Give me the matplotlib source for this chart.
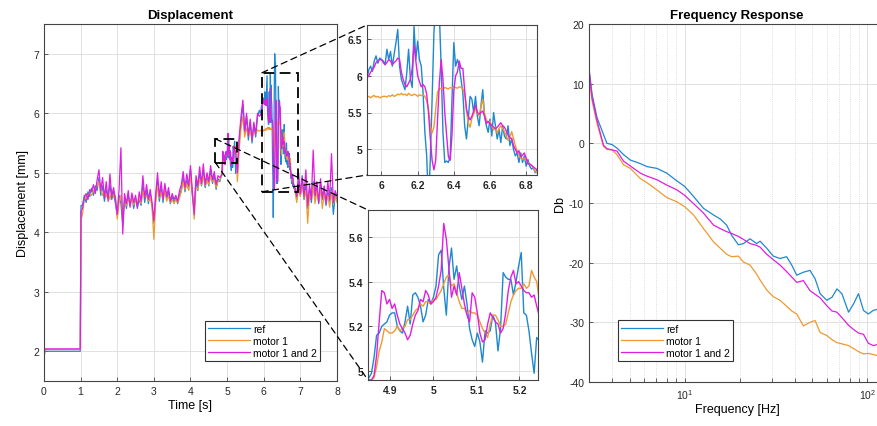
import numpy as np
import matplotlib
matplotlib.use("Agg")
import matplotlib.pyplot as plt
from matplotlib.patches import Rectangle, ConnectionPatch
from matplotlib.ticker import NullFormatter

plt.rcParams['font.family'] = ['Liberation Sans', 'DejaVu Sans']
plt.rcParams['axes.unicode_minus'] = False

names = ["ref", "motor 1", "motor 1 and 2"]
colors = ["#1E88D0", "#EE9A30", "#E01EE0"]

# ---- displacement data, sampled denser inside the two zoom windows ----
t_pre = [0.0, 0.02, 0.5, 0.99, 1.01]
ref_pre = [1.88, 2.00, 2.00, 2.00, 4.45]
m1_pre = [1.80, 2.03, 2.03, 2.03, 4.20]
m12_pre = [1.85, 2.04, 2.04, 2.04, 4.35]

t_a = np.round(np.arange(1.05, 4.8001, 0.05), 3)
ref_a = [4.45, 4.62, 4.50, 4.68, 4.60, 4.74, 4.62, 4.78, 4.70, 4.92,
         4.62, 4.78, 4.52, 4.72, 4.58, 4.80, 4.55, 4.68, 4.48, 4.28,
         4.62, 4.48, 4.12, 4.58, 4.40, 4.62, 4.45, 4.60, 4.40, 4.58,
         4.42, 4.55, 4.45, 4.80, 4.50, 4.70, 4.48, 4.65, 4.45, 4.15,
         4.58, 4.85, 4.52, 4.75, 4.50, 4.78, 4.55, 4.68, 4.48, 4.60,
         4.50, 4.58, 4.48, 4.62, 4.72, 4.92, 4.68, 4.88, 4.72, 5.05,
         4.62, 4.38, 4.88, 4.70, 4.98, 4.78, 5.02, 4.75, 4.92, 4.78,
         5.05, 4.82, 4.95, 4.72, 4.90, 4.85]
m1_a = [4.30, 4.55, 4.58, 4.62, 4.66, 4.62, 4.70, 4.72, 4.78, 4.85,
        4.72, 4.62, 4.70, 4.60, 4.68, 4.55, 4.72, 4.58, 4.62, 4.22,
        4.50, 4.62, 4.28, 4.50, 4.45, 4.55, 4.48, 4.56, 4.46, 4.55,
        4.50, 4.58, 4.48, 4.70, 4.58, 4.62, 4.52, 4.60, 4.42, 3.88,
        4.50, 4.78, 4.58, 4.68, 4.55, 4.72, 4.52, 4.62, 4.50, 4.55,
        4.48, 4.55, 4.50, 4.58, 4.68, 4.85, 4.72, 4.82, 4.70, 4.95,
        4.70, 4.22, 4.75, 4.72, 4.90, 4.80, 4.95, 4.78, 4.88, 4.80,
        4.95, 4.85, 4.88, 4.75, 4.85, 4.88]
m12_a = [4.40, 4.58, 4.65, 4.55, 4.72, 4.68, 4.80, 4.65, 4.88, 5.05,
         4.70, 4.92, 4.58, 4.85, 4.52, 4.98, 4.60, 4.75, 4.55, 4.30,
         4.72, 5.42, 3.97, 4.65, 4.48, 4.70, 4.42, 4.66, 4.50, 4.62,
         4.40, 4.68, 4.52, 4.95, 4.58, 4.80, 4.55, 4.72, 4.50, 4.20,
         4.65, 5.00, 4.60, 4.85, 4.55, 4.82, 4.60, 4.75, 4.52, 4.65,
         4.55, 4.62, 4.52, 4.70, 4.80, 5.02, 4.75, 4.98, 4.78, 5.12,
         4.68, 4.30, 4.95, 4.78, 5.10, 4.82, 5.15, 4.80, 5.00, 4.85,
         5.12, 4.88, 5.02, 4.80, 4.95, 4.92]

# zoom window 2 (4.85 - 5.24 s)
t_z2 = np.round(np.arange(4.85, 5.2401, 0.006), 4)
ref_z2 = [4.97, 4.99, 5.06, 5.16, 5.17, 5.20, 5.21, 5.22, 5.25, 5.26,
          5.26, 5.20, 5.18, 5.17, 5.22, 5.29, 5.21, 5.34, 5.35, 5.33,
          5.29, 5.22, 5.25, 5.32, 5.30, 5.33, 5.38, 5.52, 5.54, 5.37,
          5.25, 5.46, 5.55, 5.41, 5.47, 5.38, 5.32, 5.38, 5.30, 5.19,
          5.14, 5.11, 5.17, 5.13, 5.04, 5.18, 5.17, 5.18, 5.25, 5.22,
          5.09, 5.19, 5.44, 5.42, 5.41, 5.41, 5.34, 5.40, 5.47, 5.53,
          5.26, 5.25, 5.18, 5.08, 4.99, 5.15]
m1_z2 = [4.96, 4.96, 4.97, 5.02, 5.09, 5.13, 5.19, 5.18, 5.17, 5.17,
         5.18, 5.20, 5.18, 5.19, 5.20, 5.23, 5.23, 5.25, 5.27, 5.28,
         5.30, 5.29, 5.31, 5.31, 5.30, 5.32, 5.32, 5.34, 5.36, 5.39,
         5.42, 5.43, 5.38, 5.39, 5.35, 5.31, 5.28, 5.28, 5.26, 5.27,
         5.26, 5.26, 5.25, 5.22, 5.19, 5.17, 5.15, 5.21, 5.25, 5.25,
         5.23, 5.20, 5.20, 5.21, 5.26, 5.31, 5.34, 5.36, 5.37, 5.37,
         5.39, 5.37, 5.38, 5.45, 5.42, 5.40]
m12_z2 = [4.96, 4.96, 4.98, 5.07, 5.22, 5.36, 5.35, 5.30, 5.32, 5.28,
          5.30, 5.25, 5.21, 5.19, 5.17, 5.14, 5.16, 5.21, 5.25, 5.27,
          5.32, 5.31, 5.36, 5.34, 5.30, 5.31, 5.33, 5.38, 5.45, 5.66,
          5.59, 5.46, 5.33, 5.38, 5.34, 5.44, 5.37, 5.30, 5.25, 5.22,
          5.35, 5.33, 5.26, 5.17, 5.13, 5.14, 5.21, 5.26, 5.24, 5.22,
          5.21, 5.17, 5.19, 5.26, 5.36, 5.42, 5.45, 5.39, 5.40, 5.38,
          5.36, 5.35, 5.35, 5.33, 5.34, 5.29]

t_b = np.round(np.arange(5.28, 5.8801, 0.05), 3)
ref_b = [5.05, 5.55, 5.85, 6.15, 5.65, 5.95, 5.55, 5.85, 5.50, 5.80, 5.60, 5.95, 6.05]
m1_b = [4.85, 5.40, 5.75, 5.95, 5.60, 5.75, 5.62, 5.70, 5.58, 5.68, 5.65, 5.72, 5.70]
m12_b = [5.00, 5.60, 5.95, 6.22, 5.70, 6.00, 5.62, 5.90, 5.55, 5.85, 5.65, 6.00, 5.95]

# zoom window 1 (5.92 - 6.86 s)
t_z1 = np.round(np.arange(5.92, 6.8601, 0.01), 3)
ref_z1 = [5.97, 6.08, 6.13, 6.06, 6.20, 6.27, 6.17, 6.24, 6.22, 6.20,
          6.15, 6.36, 6.22, 6.33, 6.13, 6.29, 6.45, 6.63, 6.13, 5.95,
          5.88, 5.81, 6.04, 6.36, 5.95, 5.84, 6.67, 6.22, 6.47, 6.22,
          6.13, 5.77, 5.23, 4.91, 4.25, 4.86, 5.68, 6.58, 7.00, 6.72,
          6.85, 6.13, 5.23, 4.82, 4.84, 4.82, 4.91, 5.68, 6.45, 6.13,
          6.22, 6.13, 5.95, 5.77, 5.32, 5.14, 5.41, 5.72, 5.68, 5.50,
          5.72, 5.45, 5.32, 5.59, 5.81, 5.45, 5.32, 5.23, 5.41, 5.18,
          5.50, 5.32, 5.14, 5.27, 5.09, 5.32, 5.18, 5.14, 5.32, 5.05,
          5.14, 5.00, 4.91, 4.95, 4.82, 4.95, 4.82, 4.91, 4.77, 4.86,
          4.77, 4.73, 4.75, 4.68, 4.73]
m1_z1 = [5.71, 5.72, 5.70, 5.72, 5.73, 5.71, 5.72, 5.70, 5.71, 5.72,
         5.72, 5.71, 5.73, 5.72, 5.74, 5.72, 5.73, 5.75, 5.74, 5.76,
         5.74, 5.75, 5.73, 5.76, 5.74, 5.73, 5.75, 5.74, 5.72, 5.74,
         5.73, 5.74, 5.72, 5.66, 5.55, 5.32, 5.22, 5.30, 5.55, 5.78,
         5.82, 5.83, 5.82, 5.84, 5.83, 5.82, 5.84, 5.83, 5.85, 5.84,
         5.83, 5.85, 5.84, 5.82, 5.75, 5.52, 5.36, 5.30, 5.42, 5.48,
         5.55, 5.50, 5.45, 5.58, 5.68, 5.48, 5.40, 5.36, 5.38, 5.32,
         5.26, 5.30, 5.22, 5.28, 5.32, 5.28, 5.24, 5.18, 5.12, 5.16,
         5.24, 5.15, 5.05, 4.98, 4.92, 4.88, 4.86, 4.88, 4.85, 4.82,
         4.80, 4.78, 4.75, 4.70, 4.68]
m12_z1 = [5.97, 6.00, 6.05, 6.08, 6.12, 6.18, 6.20, 6.22, 6.22, 6.18,
          6.15, 6.18, 6.22, 6.20, 6.15, 6.18, 6.20, 6.24, 6.22, 6.05,
          5.95, 5.88, 5.85, 5.90, 5.95, 6.10, 6.42, 6.20, 6.00, 5.92,
          5.85, 5.88, 5.85, 5.75, 5.50, 5.15, 4.85, 4.72, 4.85, 5.40,
          5.90, 6.22, 5.95, 5.50, 5.20, 4.90, 4.85, 5.20, 5.80, 6.00,
          6.05, 6.20, 6.10, 6.10, 5.80, 5.55, 5.45, 5.40, 5.45, 5.52,
          5.60, 5.50, 5.48, 5.50, 5.52, 5.45, 5.35, 5.38, 5.35, 5.32,
          5.30, 5.28, 5.30, 5.33, 5.36, 5.32, 5.30, 5.25, 5.20, 5.15,
          5.15, 5.05, 5.00, 4.95, 4.98, 4.90, 4.92, 4.95, 4.88, 4.80,
          4.80, 4.78, 4.76, 4.74, 4.72]

t_c = np.round(np.arange(6.90, 8.0001, 0.05), 3)
ref_c = [4.55, 4.85, 4.62, 4.95, 4.55, 4.78, 4.40, 4.72, 4.50, 4.85, 4.58, 4.75,
         4.48, 4.80, 4.55, 4.70, 4.45, 4.68, 4.52, 4.75, 4.30, 4.62, 4.55]
m1_c = [4.50, 4.75, 4.60, 4.82, 4.58, 4.70, 4.15, 4.65, 4.55, 4.78, 4.48, 4.70,
        4.52, 4.72, 4.40, 4.65, 4.50, 4.62, 4.42, 4.68, 4.48, 4.60, 4.50]
m12_c = [4.60, 5.00, 4.65, 4.92, 4.60, 5.05, 4.45, 4.80, 4.55, 5.38, 4.62, 4.85,
         4.50, 4.90, 4.58, 4.78, 4.48, 4.85, 4.55, 5.32, 4.50, 4.70, 4.60]

# ---- frequency response ----
freq = [3.01, 3.12, 3.32, 3.6, 3.76, 4.01, 4.27, 4.64, 5.05, 5.73, 6.23, 7.06,
        8.0, 9.08, 10, 11.2, 12.7, 14.4, 15.7, 17, 18.1, 19.7, 21, 22.8, 24.8,
        25.9, 28.2, 30.6, 33.3, 36.2, 38.6, 41.1, 44.7, 48.6, 51.8, 55.2, 60,
        64.1, 68.2, 72.6, 79, 84.1, 89.5, 95.3, 101.3, 107.8, 114.4, 125]
db_ref = [12.1, 8.2, 4.3, 1.5, 0.0, -0.2, -0.8, -1.9, -2.8, -3.4, -3.9, -4.2,
          -5.0, -6.3, -7.2, -8.9, -10.9, -12.0, -12.7, -13.7, -15.4, -17.0, -16.8,
          -16.0, -16.8, -16.4, -17.6, -18.9, -19.3, -19.0, -20.4, -22.1, -21.6,
          -21.3, -22.7, -25.2, -26.3, -25.8, -24.4, -25.2, -28.3, -26.9, -25.2,
          -28.0, -28.6, -28.0, -27.8, -28.0]
db_m1 = [10.8, 7.1, 3.3, -0.5, -1.0, -1.1, -1.9, -3.6, -4.2, -5.9, -6.6, -7.8,
         -9.1, -9.8, -10.6, -12.0, -14.3, -16.5, -17.6, -18.6, -19.0, -18.9, -19.9,
         -20.4, -21.9, -22.9, -24.6, -25.7, -26.3, -27.3, -28.1, -28.6, -30.6,
         -30.0, -29.7, -31.7, -32.2, -32.9, -33.4, -33.6, -33.9, -34.4, -34.9,
         -35.3, -35.2, -35.4, -35.6, -35.8]
db_m12 = [12.0, 7.6, 3.8, -0.3, -0.9, -1.1, -1.3, -3.0, -3.8, -5.0, -5.5, -6.1,
          -7.0, -7.8, -8.7, -10.1, -11.7, -13.7, -14.3, -14.8, -15.1, -15.6, -16.1,
          -16.8, -17.1, -17.4, -18.6, -19.5, -20.4, -21.5, -22.4, -23.3, -23.0,
          -24.7, -25.3, -25.9, -27.2, -28.1, -28.3, -29.2, -30.5, -31.2, -31.8,
          -32.0, -33.5, -33.9, -33.7, -34.0]

t = np.concatenate([t_pre, t_a, t_z2, t_b, t_z1, t_c])
ref = np.concatenate([ref_pre, ref_a, ref_z2, ref_b, ref_z1, ref_c])
m1 = np.concatenate([m1_pre, m1_a, m1_z2, m1_b, m1_z1, m1_c])
m12 = np.concatenate([m12_pre, m12_a, m12_z2, m12_b, m12_z1, m12_c])
series = [ref, m1, m12]

W, H = 878, 427
fig = plt.figure(figsize=(W / 100, H / 100), dpi=100)


def box(x0, y0, x1, y1):
    return [x0 / W, 1 - y1 / H, (x1 - x0) / W, (y1 - y0) / H]


def style(ax, size=7.5, bold=False):
    ax.tick_params(direction='in', length=3, width=0.5, labelsize=size,
                   colors='#262626', which='both')
    for sp in ax.spines.values():
        sp.set_linewidth(0.8)
        sp.set_color('#444444')
    ax.grid(True, color='#dcdcdc', linewidth=0.6)
    ax.set_axisbelow(True)
    if bold:
        for lab in ax.get_xticklabels() + ax.get_yticklabels():
            lab.set_fontweight('bold')


ax = fig.add_axes(box(44, 25, 337, 382))
for y, c, n in zip(series, colors, names):
    ax.plot(t, y, color=c, lw=0.9, label=n)
ax.set_xlim(0, 8)
ax.set_ylim(1.5, 7.5)
ax.set_xticks(range(0, 9))
ax.set_yticks(range(2, 8))
style(ax)
ax.set_title("Displacement", fontsize=9.5, fontweight='bold', pad=4)
ax.set_xlabel("Time [s]", fontsize=9, labelpad=2)
ax.set_ylabel("Displacement [mm]", fontsize=9, labelpad=3)
leg = ax.legend(loc='lower right', bbox_to_anchor=(0.942, 0.056), borderaxespad=0,
                fontsize=7.5, fancybox=False, edgecolor='#333333', framealpha=1,
                handlelength=4.0, handletextpad=0.3, labelspacing=0.2,
                borderpad=0.3)
leg.get_frame().set_linewidth(0.8)

# zoom rectangles on the main plot
ax.add_patch(Rectangle((5.95, 4.68), 0.98, 2.0, fill=False, ec='black', lw=1.3,
                       ls=(0, (6, 3)), zorder=5))
ax.add_patch(Rectangle((4.68, 5.17), 0.59, 0.40, fill=False, ec='black', lw=1.3,
                       ls=(0, (6, 3)), zorder=5))

ins1 = fig.add_axes(box(367, 26, 537, 176))
for y, c in zip(series, colors):
    ins1.plot(t, y, color=c, lw=1.0)
ins1.set_xlim(5.92, 6.86)
ins1.set_ylim(4.65, 6.69)
ins1.set_xticks([6, 6.2, 6.4, 6.6, 6.8])
ins1.set_xticklabels(["6", "6.2", "6.4", "6.6", "6.8"])
ins1.set_yticks([5, 5.5, 6, 6.5])
ins1.set_yticklabels(["5", "5.5", "6", "6.5"])
style(ins1, size=7.5, bold=True)

ins2 = fig.add_axes(box(368, 211, 538, 381))
for y, c in zip(series, colors):
    ins2.plot(t, y, color=c, lw=1.0)
ins2.set_xlim(4.848, 5.243)
ins2.set_ylim(4.96, 5.72)
ins2.set_xticks([4.9, 5.0, 5.1, 5.2])
ins2.set_xticklabels(["4.9", "5", "5.1", "5.2"])
ins2.set_yticks([5.0, 5.2, 5.4, 5.6])
ins2.set_yticklabels(["5", "5.2", "5.4", "5.6"])
style(ins2, size=7.5, bold=True)

# dashed connectors from the rectangles to the insets
for xyA, ins, xyB in [((5.95, 6.68), ins1, (0, 1)), ((5.95, 4.68), ins1, (0, 0)),
                      ((4.68, 5.57), ins2, (0, 1)), ((4.68, 5.17), ins2, (0, 0))]:
    con = ConnectionPatch(xyA=xyA, coordsA=ax.transData, xyB=xyB,
                          coordsB=ins.transAxes, color='black', lw=0.9,
                          ls=(0, (5, 3.5)), zorder=6)
    fig.add_artist(con)

axr = fig.add_axes(box(589, 25, 885, 383))
for y, c, n in zip([db_ref, db_m1, db_m12], colors, names):
    axr.plot(freq, y, color=c, lw=0.9, label=n)
axr.set_xscale('log')
axr.set_xlim(3, 125)
axr.set_ylim(-40, 20)
axr.set_yticks(range(-40, 21, 10))
axr.xaxis.set_minor_formatter(NullFormatter())
style(axr)
axr.grid(True, which='minor', axis='x', color='#d0d0d0', lw=0.6, ls=':')
axr.set_title("Frequency Response", fontsize=9.5, fontweight='bold', pad=4)
axr.set_xlabel("Frequency [Hz]", fontsize=9, labelpad=2)
axr.set_ylabel("Db", fontsize=9, labelpad=2)
leg2 = axr.legend(loc='lower left', bbox_to_anchor=(0.098, 0.059), borderaxespad=0,
                  fontsize=7.5, fancybox=False, edgecolor='#333333', framealpha=1,
                  handlelength=4.0, handletextpad=0.3, labelspacing=0.2,
                  borderpad=0.3)
leg2.get_frame().set_linewidth(0.8)

fig.savefig("out.png", dpi=100)
